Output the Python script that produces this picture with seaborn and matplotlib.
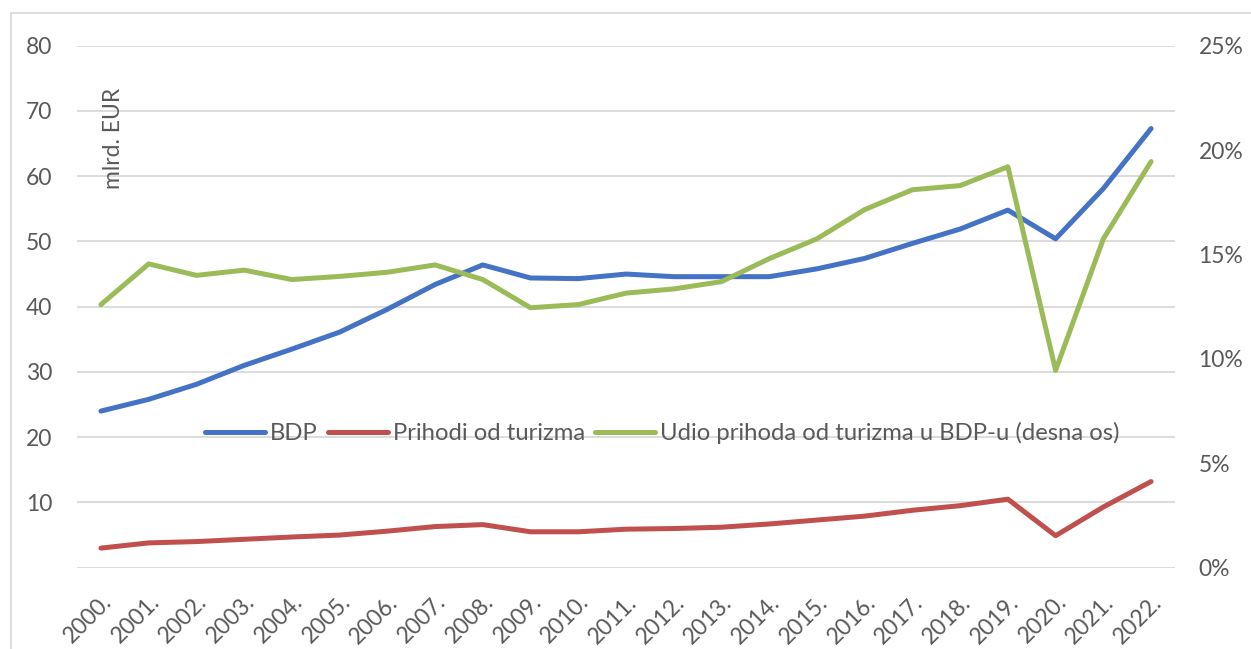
import numpy as np
import pandas as pd
import matplotlib
matplotlib.use("Agg")
import matplotlib.pyplot as plt
import seaborn as sns
from matplotlib.ticker import PercentFormatter
from matplotlib.patches import Rectangle

# data
years = [f"{y}." for y in range(2000, 2023)]
bdp = [24.0, 25.8, 28.1, 31.0, 33.5, 36.1, 39.6, 43.4, 46.4, 44.4, 44.3, 45.0,
       44.6, 44.6, 44.6, 45.8, 47.4, 49.7, 51.9, 54.8, 50.4, 58.1, 67.3]
prihodi = [3.0, 3.8, 4.0, 4.35, 4.7, 5.0, 5.6, 6.3, 6.6, 5.5, 5.5, 5.9,
           6.0, 6.2, 6.7, 7.3, 7.9, 8.8, 9.5, 10.5, 4.9, 9.3, 13.2]
udio = [12.6, 14.55, 14.0, 14.25, 13.8, 13.95, 14.15, 14.5, 13.8, 12.45, 12.6, 13.15,
        13.35, 13.7, 14.8, 15.75, 17.15, 18.1, 18.3, 19.2, 9.45, 15.75, 19.45]

labels = ["BDP", "Prihodi od turizma", "Udio prihoda od turizma u BDP-u (desna os)"]
colors = ["#4472C4", "#C0504D", "#9BBB59"]

df = pd.DataFrame({"year": years, "bdp": bdp, "prihodi": prihodi,
                   "udio": np.array(udio) / 100})
df["x"] = np.arange(len(df))

sns.set_style("white")
plt.rcParams["font.family"] = ["Lato", "DejaVu Sans"]
text_color = "#595959"
fs = 16.5

fig = plt.figure(figsize=(12.51, 6.49), dpi=100)
ax = fig.add_axes([0.0616, 0.1253, 0.8776, 0.8043])
ax2 = ax.twinx()

lw = 3.6
sns.lineplot(data=df, x="x", y="bdp", ax=ax, color=colors[0], linewidth=lw,
             label=labels[0], legend=False)
sns.lineplot(data=df, x="x", y="prihodi", ax=ax, color=colors[1], linewidth=lw,
             label=labels[1], legend=False)
sns.lineplot(data=df, x="x", y="udio", ax=ax2, color=colors[2], linewidth=lw,
             label=labels[2], legend=False)

ax.set_xlim(-0.5, len(df) - 0.5)
ax.set_ylim(0, 80)
ax2.set_ylim(0, 0.25)
ax.set_yticks(range(0, 81, 10))
ax.set_yticklabels([""] + [str(v) for v in range(10, 81, 10)])
ax2.set_yticks(np.arange(0, 0.26, 0.05))
ax2.yaxis.set_major_formatter(PercentFormatter(1.0, decimals=0))

ax.set_xticks(df["x"])
ax.set_xticklabels(df["year"], rotation=45, ha="right", rotation_mode="anchor")
ax.tick_params(axis="x", length=0, pad=17, labelsize=fs, labelcolor=text_color)
ax.tick_params(axis="y", length=0, pad=18, labelsize=fs, labelcolor=text_color)
ax2.tick_params(axis="y", length=0, pad=17, labelsize=fs, labelcolor=text_color)
ax.set_xlabel("")
ax.set_ylabel("")
ax2.set_ylabel("")

ax.grid(axis="y", color="#D9D9D9", linewidth=1.3)
ax.set_axisbelow(True)
for a in (ax, ax2):
    for s in a.spines.values():
        s.set_visible(False)

ax.text(0.033, 0.823, "mlrd. EUR", transform=ax.transAxes, rotation=90,
        ha="center", va="center", fontsize=fs, color=text_color)

handles = ax.get_lines()[:2] + ax2.get_lines()[:1]
ax2.legend(handles, labels, loc="center", bbox_to_anchor=(0.533, 0.258),
           ncol=3, frameon=False, fontsize=17.2, handlelength=2.5,
           handletextpad=0.2, columnspacing=0.45, labelcolor=text_color)

fig.patches.append(Rectangle((11 / 1251, -0.1), 1.2, 1 - 13 / 649 + 0.1,
                             transform=fig.transFigure, fill=False,
                             edgecolor="#D9D9D9", linewidth=1.3))

fig.savefig("out.png", dpi=100)
